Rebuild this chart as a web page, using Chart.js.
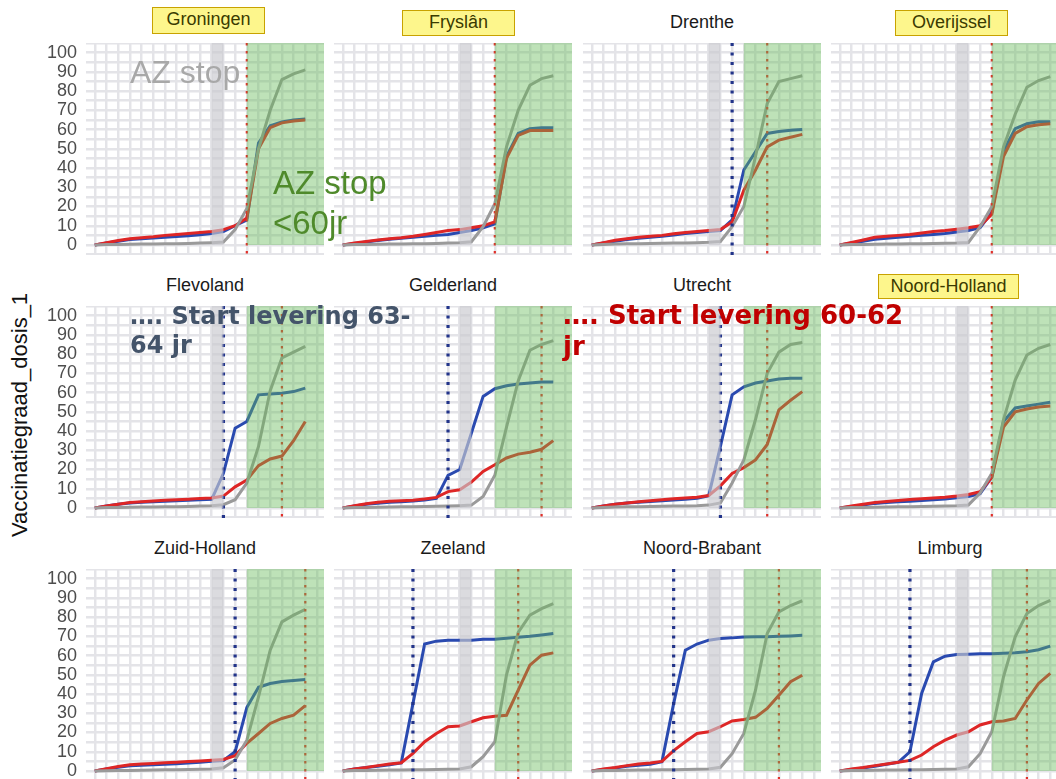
<!DOCTYPE html>
<html>
<head>
<meta charset="utf-8">
<script src="https://cdn.jsdelivr.net/npm/chart.js"></script>
<style>
body{margin:0;width:1056px;height:779px;overflow:hidden;background:#fff;position:relative;font-family:"Liberation Sans",Arial,sans-serif}
canvas{position:absolute}
.titel{position:absolute;font-size:18px;color:#1a1a1a;text-align:center;white-space:nowrap;line-height:22px}
.geel{background:#fdf68c;border:1.5px solid #c8a200;box-sizing:border-box;line-height:23px;color:#3a3a00}
.tekst{position:absolute;white-space:nowrap}
</style>
</head>
<body>
<div id="ytitel" class="tekst" style="left:20px;top:415px;font-size:22px;color:#111;transform:translate(-50%,-50%) rotate(-90deg)">Vaccinatiegraad_dosis_1</div>
<script>
// weken vanaf start van de reeks
var weken = [0,1,2,3,4,5,6,7,8,9,10,11,12,13,14,15,16,17,18];
var provincies = ['Groningen','Fryslân','Drenthe','Overijssel','Flevoland','Gelderland','Utrecht','Noord-Holland','Zuid-Holland','Zeeland','Noord-Brabant','Limburg'];
var gemarkeerd = ['Groningen','Fryslân','Overijssel','Noord-Holland'];

// grijze lijn
var grijs = [
  [0,0.2,0.3,0.4,0.5,0.5,0.6,0.7,0.8,1,1.2,1.5,8,19,50,70,86,89,91],
  [0,0.2,0.3,0.4,0.5,0.5,0.6,0.7,0.8,1,1.2,1.7,9.5,21.5,51,70,83,86.5,88],
  [0,0.3,0.5,0.6,0.7,0.8,0.9,1,1.1,1.2,1.4,1.8,9.5,20,46,73.5,85,86.5,88],
  [0,0.2,0.3,0.4,0.5,0.5,0.6,0.7,0.8,0.9,1,1.3,9.5,20,51,68,82,85.5,87.5],
  [0,0.2,0.3,0.4,0.5,0.5,0.6,0.7,0.8,1,1.2,1.7,4.3,13,32,61,78,81,84],
  [0,0.2,0.3,0.4,0.5,0.6,0.7,0.8,0.9,1,1.2,1.5,6,17,42,66,82,85,87],
  [0,0.3,0.5,0.6,0.7,0.8,0.9,1,1.1,1.2,1.5,2.6,13,25,46,70,81,85,86],
  [0,0.2,0.3,0.4,0.5,0.6,0.7,0.8,0.9,1,1.2,1.6,7.8,18,46,66.5,79.5,83,85],
  [0,0.1,0.2,0.3,0.4,0.5,0.6,0.7,0.8,0.9,1.1,1.7,5.7,16,38.5,62.8,77.5,81,84],
  [0,0.2,0.3,0.4,0.5,0.5,0.6,0.7,0.8,0.9,1,2.2,7.4,15.2,50,72,81,84.4,87],
  [0,0.2,0.3,0.4,0.5,0.5,0.6,0.7,0.8,0.9,1,1.9,9,19.5,42,71.5,82.7,86,88.5],
  [0,0.2,0.3,0.4,0.5,0.5,0.6,0.7,0.8,0.9,1,2.2,9,20.4,49,69.7,81.8,86,88.7]
];
// 63-64 jr
var blauw = [
  [0,1,2,2.8,3.2,3.6,4,4.4,4.8,5.3,6,7,10,13,53,62,64,65,65.5],
  [0,0.8,1.5,2.3,3,3.5,4,4.5,5,5.5,6.5,7.5,9,11,46,58,60.5,61,61],
  [0,1,2,2.8,3.5,4,4.5,5.2,6,6.5,7,7.5,13,39,48.5,58,59,59.7,60],
  [0,1,2,3,3.5,4,4.5,5,5.5,6,6.8,7.5,9,17,49,60.5,63,64,64],
  [0,1,2,2.6,3,3.2,3.5,3.8,4,4.3,4.5,18,41.5,45,58.8,59.3,59.7,60.5,62.3],
  [0,1,2,2.5,3,3.3,3.6,4.2,5,17,20,39,58,62,63.5,64.5,65,65.5,65.5],
  [0,1,2,2.6,3,3.4,3.8,4.2,4.6,5,6.4,32,58.8,63,65,66,67,67.5,67.5],
  [0,0.8,1.6,2.4,2.8,3.2,3.5,3.9,4.3,4.7,5.3,6,7.5,16,45,52,53,54,55],
  [0,1,2,2.7,3,3.2,3.5,3.8,4.1,4.5,5,5.5,10,33,43.5,45.5,46.5,47,47.5],
  [0,1,1.8,2.5,3.2,4.2,35,66,67.5,68,68,68,68.5,68.5,69,69.5,70,70.7,71.5],
  [0,0.8,1.6,2.5,3,3.5,4.8,35,62.8,66,68,68.9,69.2,69.7,69.8,69.8,70,70.2,70.5],
  [0,0.8,1.6,2.5,3.5,4.5,10,40.3,56.7,59.7,60.5,60.7,61,61,61.2,61.5,62,63,64.9]
];
// 60-62 jr
var rood = [
  [0,1.2,2.3,3.2,3.8,4.3,5,5.5,6,6.5,7,8,10,14,50,61,63.5,64.5,65],
  [0,1,1.8,2.6,3.3,3.8,4.5,5.5,6.5,7.5,8,9,10,12,45,57,59.5,59.5,59.5],
  [0,1.2,2.5,3.3,4,4.5,5,5.8,6.5,7,7.5,8,12,28.5,39,51,54.5,56,57.5],
  [0,1.3,2.6,4,4.5,5,5.5,6.2,7,7.5,8.2,9,10,16,46,58,61.5,62.5,63],
  [0,1,2,2.8,3.2,3.6,4,4.3,4.6,5,5.2,6.2,11,14.5,22,25.5,27,35,45],
  [0,1.2,2.2,3,3.5,3.8,4,4.7,5.5,8.5,9.5,13.5,19,22.5,26,28,29,30.5,35],
  [0,1,2,2.6,3.2,3.8,4.3,4.8,5.2,5.6,6.5,11.5,18,21,25,33,51,56,60.5],
  [0,1,2,2.9,3.4,3.9,4.4,4.8,5.2,5.6,6.2,7,8.5,16,42,50,51.5,52.5,53],
  [0,1.2,2.3,3.3,3.6,3.9,4.3,4.6,4.9,5.2,5.6,6,8,14.4,19.5,24.7,27.3,29,34],
  [0,1,1.8,2.8,3.6,4.3,9.2,15.2,19.5,23,23.4,25.6,27.7,28.5,29,42,55,60.2,61.4],
  [0,1,1.8,2.8,3.6,4.2,5,10.6,15.2,19.5,20.4,23,26,26.8,27.9,32.5,39.4,46.4,49.8],
  [0,1,1.8,2.8,3.6,4.5,5.5,8.3,12.6,16,18.7,20.4,23.9,25.6,26,27.3,36.9,45.5,50.7]
];
// verticale stippellijnen: start levering (week)
var startBlauw = [null,null,12,null,11,9,11,null,12,6,7,6];
var startRood = [13,13,15,13,16,17,15,13,18,15,16,16];
var azStop = [10,11];
var groenVanaf = 13;
var yTicks = [0,10,20,30,40,50,60,70,80,90,100];

var kolomX = [86,334,583,831];
var rijY = [43,306,569];
var plotB = 238, plotH = 212;

function lijn(ctx, x, y1, y2, kleur, dikte, dash) {
  ctx.save();
  ctx.strokeStyle = kleur; ctx.lineWidth = dikte; ctx.setLineDash(dash);
  ctx.beginPath(); ctx.moveTo(x, y1); ctx.lineTo(x, y2); ctx.stroke();
  ctx.restore();
}

var markeringen = {
  id: 'markeringen',
  afterDatasetsDraw: function(chart, args, opts) {
    var ctx = chart.ctx, a = chart.chartArea, xs = chart.scales.x, ys = chart.scales.y;
    if (opts.blauw != null) lijn(ctx, xs.getPixelForValue(opts.blauw), a.top, a.bottom, '#22348a', 3.2, [3, 6.5]);
    lijn(ctx, xs.getPixelForValue(opts.rood), a.top, a.bottom, '#e0302a', 2.2, [2.5, 5.5]);
    ctx.save();
    ctx.fillStyle = 'rgba(200,200,206,0.65)';
    var g1 = xs.getPixelForValue(azStop[0]), g2 = xs.getPixelForValue(azStop[1]);
    ctx.fillRect(g1, a.top, g2 - g1, ys.getPixelForValue(0) - a.top);
    ctx.fillStyle = 'rgba(100,185,85,0.42)';
    var gr = xs.getPixelForValue(groenVanaf);
    ctx.fillRect(gr, a.top, a.right - gr, ys.getPixelForValue(0) - a.top);
    ctx.restore();
  }
};

provincies.forEach(function(naam, i) {
  var kol = i % 4, rij = Math.floor(i / 4);
  var eerste = kol === 0;
  var links = eerste ? 0 : kolomX[kol];
  var asB = eerste ? kolomX[0] : 0;
  var cv = document.createElement('canvas');
  cv.width = asB + plotB; cv.height = plotH;
  cv.style.left = links + 'px'; cv.style.top = rijY[rij] + 'px';
  document.body.appendChild(cv);

  function reeks(waarden, kleur) {
    return {
      data: weken.map(function(w, j) { return {x: w, y: waarden[j]}; }),
      borderColor: kleur, borderWidth: 3, pointRadius: 0, tension: 0, fill: false
    };
  }

  new Chart(cv, {
    type: 'line',
    data: { datasets: [reeks(grijs[i], '#9a9a9a'), reeks(rood[i], '#de2626'), reeks(blauw[i], '#2a4ab0')] },
    options: {
      responsive: false, animation: false,
      layout: { padding: 0 },
      plugins: { legend: { display: false }, tooltip: { enabled: false },
        markeringen: { blauw: startBlauw[i], rood: startRood[i] } },
      scales: {
        x: { type: 'linear', min: -0.75, max: 19.6,
          ticks: { display: false, stepSize: 1, includeBounds: false },
          grid: { color: '#e4e4e8', lineWidth: 2.5, drawTicks: false },
          border: { display: false },
          afterFit: function(s) { s.height = 0; s.paddingLeft = 0; s.paddingRight = 0; } },
        y: { min: -5.2, max: 105,
          ticks: { display: eerste, stepSize: 5, includeBounds: false, autoSkip: false, padding: 9,
            color: '#4d4d4d', font: { family: '"Liberation Sans", Arial', size: 18 },
            callback: function(v) { return yTicks.indexOf(v) >= 0 ? v : ''; } },
          grid: { color: '#e4e4e8', lineWidth: 2.5, drawTicks: false },
          border: { display: false },
          afterFit: function(s) { s.width = asB; s.paddingTop = 0; s.paddingBottom = 0; } }
      }
    },
    plugins: [markeringen]
  });

  var t = document.createElement('div');
  t.className = 'titel';
  t.textContent = naam;
  if (gemarkeerd.indexOf(naam) >= 0) {
    t.className += ' geel';
    var vakken = { 'Groningen': [152, 7, 113, 27], 'Fryslân': [402, 10, 113, 26], 'Overijssel': [895, 10, 113, 26], 'Noord-Holland': [878, 274, 141, 25] };
    var v = vakken[naam];
    t.style.left = v[0] + 'px'; t.style.top = v[1] + 'px'; t.style.width = v[2] + 'px'; t.style.height = v[3] + 'px';
  } else {
    t.style.left = (kolomX[kol] + plotB / 2 - 100) + 'px';
    t.style.width = '200px';
    t.style.top = (rijY[rij] - 32) + 'px';
  }
  document.body.appendChild(t);
});

// annotaties
var annotaties = [
  ['AZ stop', 130, 53, 32, '#a8a8a8', 'normal', '"Liberation Sans", Arial'],
  ['AZ stop<br>&lt;60jr', 273, 163, 33, '#4f8a2b', 'normal', '"Liberation Sans", Arial'],
  ['…. Start levering 63-<br>64 jr', 130, 302, 24, '#44546a', 'bold', '"DejaVu Sans", Verdana'],
  ['…. Start levering 60-62<br>jr', 563, 300, 26, '#c00000', 'bold', '"DejaVu Sans", Verdana']
];
annotaties.forEach(function(a) {
  var d = document.createElement('div');
  d.className = 'tekst';
  d.innerHTML = a[0];
  d.style.left = a[1] + 'px'; d.style.top = a[2] + 'px';
  d.style.fontSize = a[3] + 'px'; d.style.color = a[4]; d.style.fontWeight = a[5];
  d.style.fontFamily = a[6]; d.style.lineHeight = Math.round(a[3] * 1.2) + 'px';
  document.body.appendChild(d);
});
</script>
</body>
</html>
